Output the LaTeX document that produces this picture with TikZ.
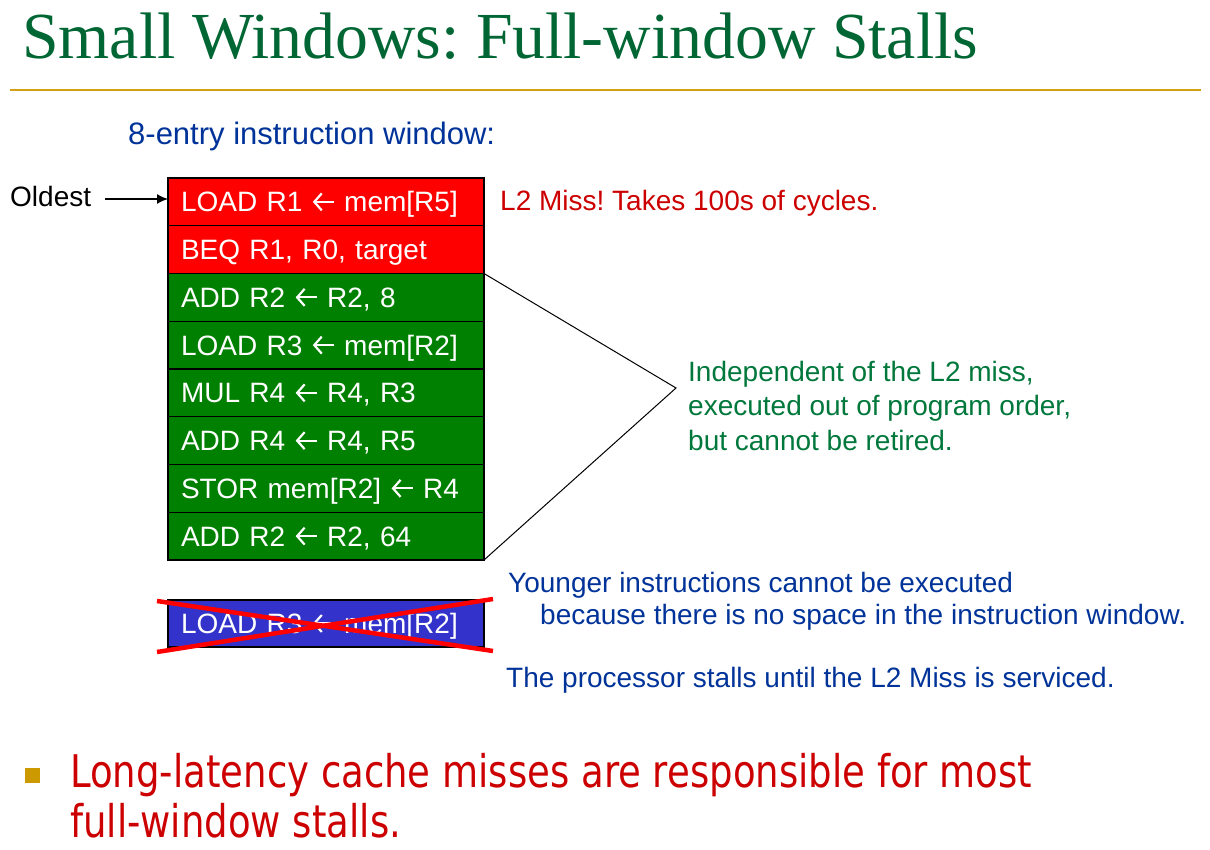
\documentclass[tikz,border=0pt]{standalone}
\usepackage{fontspec}
\setmainfont{Liberation Sans}
\newfontfamily\titlefont{Liberation Serif}
\newfontfamily\bulletfont[FakeStretch=0.823]{DejaVu Sans}
\usetikzlibrary{arrows.meta,calc}

\definecolor{titlegreen}{RGB}{0,102,51}
\definecolor{rulegold}{RGB}{212,160,23}
\definecolor{bulletgold}{RGB}{204,153,0}
\definecolor{boxred}{RGB}{255,0,0}
\definecolor{boxgreen}{RGB}{0,128,0}
\definecolor{boxblue}{RGB}{51,51,204}
\definecolor{textblue}{RGB}{0,51,153}
\definecolor{textred}{RGB}{204,0,0}
\definecolor{textgreen}{RGB}{0,120,60}

% open-headed left arrow used inside the instruction rows
\newcommand{\la}{\tikz[baseline=0pt]{%
  \path (0pt,0pt) (22pt,19pt);
  \draw[white, line width=2.2pt, {Straight Barb[length=7.5pt,width=17pt]}-] (1pt,10pt) -- (22pt,10pt);}}

\tikzset{
  txt/.style={inner sep=0pt, anchor=base west, font=\fontsize{28}{34.5}\selectfont},
  rowbox/.style={draw=black, line width=1.1pt, anchor=north west, outer sep=0pt,
    text width=290pt, inner xsep=13pt, inner ysep=0pt, align=left,
    minimum height=47.75pt, text height=20pt, text depth=0pt,
    text=white, font=\fontsize{28}{33}\selectfont},
  crossline/.style={draw=boxred, line width=4.5pt},
}

\begin{document}
\frenchspacing
\begin{tikzpicture}[x=1pt,y=-1pt]
\useasboundingbox[fill=white] (0,0) rectangle (1210,850);

% heading and rule
\node[inner sep=0pt, anchor=base west, text=titlegreen] (title) at (22,59)
  {\resizebox{956pt}{!}{\titlefont\fontsize{69}{80}\selectfont Small Windows: Full-window Stalls}};
\draw[rulegold, line width=2.5pt] (10,90) -- (1201,90);

\node[txt, text=textblue, font=\fontsize{31}{36}\selectfont] (caption) at (128,145) {8-entry instruction window:};

% instruction window
\node[rowbox, fill=boxred]   (r1) at (168,178)      {LOAD R1 \la{} mem[R5]};
\node[rowbox, fill=boxred]   (r2) at (r1.south west) {BEQ R1, R0, target};
\node[rowbox, fill=boxgreen] (r3) at (r2.south west) {ADD R2 \la{} R2, 8};
\node[rowbox, fill=boxgreen] (r4) at (r3.south west) {LOAD R3 \la{} mem[R2]};
\node[rowbox, fill=boxgreen] (r5) at (r4.south west) {MUL R4 \la{} R4, R3};
\node[rowbox, fill=boxgreen] (r6) at (r5.south west) {ADD R4 \la{} R4, R5};
\node[rowbox, fill=boxgreen] (r7) at (r6.south west) {STOR mem[R2] \la{} R4};
\node[rowbox, fill=boxgreen] (r8) at (r7.south west) {ADD R2 \la{} R2, 64};

% oldest pointer
\node[txt] (oldest) at (10,207) {Oldest};
\coordinate (oldtail) at (105,199);
\draw[line width=1.3pt, -{Latex[length=11pt,width=10pt]}] (oldtail) -- (oldtail -| r1.west);

\node[txt, text=textred] (miss) at (500,211) {L2 Miss! Takes 100s of cycles.};

% bracket over the independent instructions
\coordinate (apex) at (676,388);
\draw[line width=1pt] (r3.north east) -- (apex) -- (r8.south east);
\node[txt, text=textgreen, align=left] (indep) at (688,450)
  {Independent of the L2 miss,\\ executed out of program order,\\ but cannot be retired.};

% the instruction that cannot enter
\node[rowbox, fill=boxblue, minimum height=47pt] (young) at (168,600) {LOAD R3 \la{} mem[R2]};
\draw[crossline] ($(young.north west)+(-11,1)$) -- ($(young.south east)+(9,4)$);
\draw[crossline] ($(young.south west)+(-11,5)$) -- ($(young.north east)+(9,-1)$);

\node[txt, text=textblue] (younger) at (508,592) {Younger instructions cannot be executed};
\node[txt, text=textblue] (nospace) at (540,624) {because there is no space in the instruction window.};
\node[txt, text=textblue] (stall) at (506,687) {The processor stalls until the L2 Miss is serviced.};

% bullet
\node[fill=bulletgold, inner sep=0pt, minimum size=15pt, anchor=north west] (bullet) at (25,768) {};
\node[inner sep=0pt, anchor=base west, align=left, text=textred,
  font=\bulletfont\fontsize{45}{50}\selectfont] (point) at (70,837)
  {Long-latency cache misses are responsible for most\\full-window stalls.};
\end{tikzpicture}
\end{document}
